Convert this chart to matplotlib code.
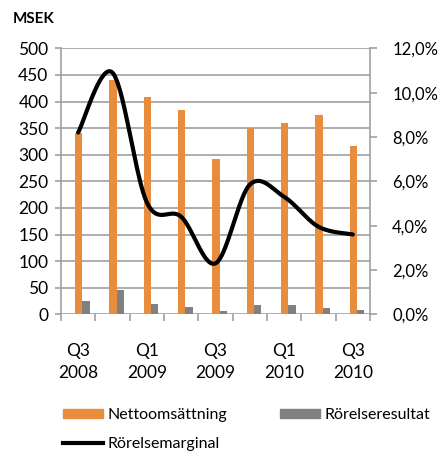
"""Nettoomsättning / Rörelseresultat / Rörelsemarginal per kvartal."""

import numpy as np
import matplotlib
matplotlib.use("Agg")
import matplotlib.pyplot as plt
from matplotlib.patches import Patch
from matplotlib.lines import Line2D
from matplotlib.ticker import FuncFormatter

quarters = ["Q3\n2008", "Q4\n2008", "Q1\n2009", "Q2\n2009", "Q3\n2009",
            "Q4\n2009", "Q1\n2010", "Q2\n2010", "Q3\n2010"]
nettoomsattning = [340, 440, 409, 384, 291, 351, 359, 375, 317]
rorelseresultat = [25, 45, 20, 14, 6, 17, 17, 12, 9]
rorelsemarginal = [8.2, 10.9, 5.05, 4.4, 2.3, 5.85, 5.3, 3.95, 3.6]  # %

ORANGE = "#E98C3E"
GRAY = "#808080"
GRID = "#A0A0A0"


def _smooth(xs, ys, n=40):
    # Catmull-Rom style bezier, like Excel's smoothed line
    p = np.column_stack([xs, ys]).astype(float)
    p = np.vstack([p[0], p, p[-1]])
    out = []
    for i in range(1, len(p) - 2):
        p0, p1, p2, p3 = p[i-1], p[i], p[i+1], p[i+2]
        c1 = p1 + (p2 - p0) / 6
        c2 = p2 - (p3 - p1) / 6
        t = np.linspace(0, 1, n)[:, None]
        seg = ((1-t)**3)*p1 + 3*((1-t)**2)*t*c1 + 3*(1-t)*(t**2)*c2 + (t**3)*p2
        out.append(seg if i == 1 else seg[1:])
    out = np.vstack(out)
    return out[:, 0], out[:, 1]


plt.rcParams["font.family"] = ["Lato", "DejaVu Sans"]
fig = plt.figure(figsize=(4.4, 4.54), dpi=100)
ax = fig.add_axes([61/440, 1 - 314.3/454, 309/440, 266/454])

x = np.arange(len(quarters))
w = 0.215
ax.bar(x + 0.015, nettoomsattning, w, color=ORANGE, zorder=2)
ax.bar(x + 0.015 + w, rorelseresultat, w, color=GRAY, zorder=2)

ax.set_xlim(-0.5, len(quarters) - 0.5)
ax.set_ylim(0, 500)
ax.set_yticks(np.arange(0, 501, 50))
ax.yaxis.grid(True, color=GRID, linewidth=1.2)
ax.set_axisbelow(True)
for s in ["top", "right", "bottom"]:
    ax.spines[s].set_visible(False)
ax.spines["left"].set_color(GRID)
ax.spines["left"].set_linewidth(1.2)
ax.tick_params(axis="y", length=4, color=GRID, width=1.2, labelsize=12.5, pad=5)

ax.set_xticks(x[::2])
ax.set_xticklabels(quarters[::2], fontsize=12.5, linespacing=1.45)
ax.set_xticks(np.arange(-0.5, len(quarters)), minor=True)
ax.tick_params(axis="x", which="major", length=0, pad=21)
ax.tick_params(axis="x", which="minor", length=5, color=GRID, width=1.2)

ax2 = ax.twinx()
ax2.set_ylim(0, 12)
ax2.set_yticks(np.arange(0, 12.1, 2))
ax2.yaxis.set_major_formatter(FuncFormatter(lambda v, _: f"{v:.1f}%".replace(".", ",")))
for s in ["top", "left", "bottom"]:
    ax2.spines[s].set_visible(False)
ax2.spines["right"].set_color(GRID)
ax2.spines["right"].set_linewidth(1.2)
ax2.tick_params(axis="y", length=5, color=GRID, width=1.2, labelsize=12, pad=11)

sx, sy = _smooth(x, rorelsemarginal)
ax2.plot(sx, sy, color="black", linewidth=3, solid_capstyle="round", zorder=3)

fig.text(13/440, 1 - 19/454, "MSEK", fontsize=11, fontweight="bold", va="center")

handles = [Patch(color=ORANGE), Line2D([], [], color="black", linewidth=3),
           Patch(color=GRAY)]
labels = ["Nettoomsättning", "Rörelsemarginal", "Rörelseresultat"]
fig.legend(handles, labels, ncol=2, loc="upper left",
           bbox_to_anchor=(63/440, 1 - 408/454), frameon=False,
           fontsize=11.5, handlelength=2.5, handleheight=0.5,
           handletextpad=0.3, columnspacing=3.3, labelspacing=0.95,
           borderpad=0, borderaxespad=0)

fig.savefig("out.png", dpi=100)
